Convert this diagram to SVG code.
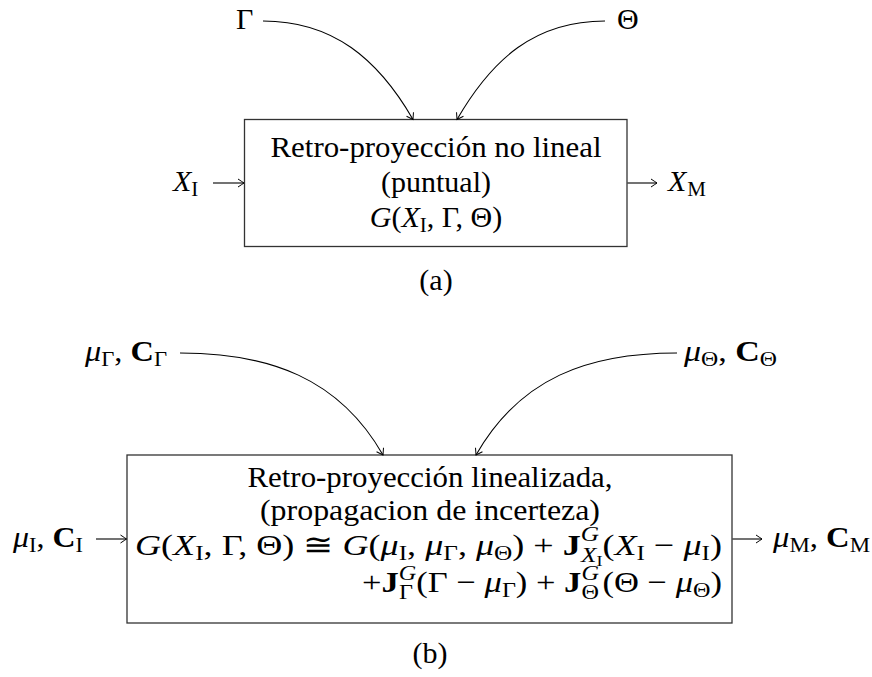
<svg xmlns="http://www.w3.org/2000/svg" width="872" height="677" viewBox="0 0 872 677">
<style>
text{font-family:"Liberation Serif","DejaVu Serif",serif;font-size:30px;fill:#000}
.i{font-style:italic}
.b{font-weight:bold}
.s{font-size:21px;font-style:normal}
.si{font-size:21px;font-style:italic}
.ss{font-size:15px;font-style:normal}
.box{fill:#fff;stroke:#333;stroke-width:1.3}
.c{fill:none;stroke:#000;stroke-width:1.1;marker-end:url(#ah)}
</style>
<defs>
<marker id="ah" viewBox="-8 -5 10 10" refX="0" refY="0" markerWidth="10" markerHeight="10" markerUnits="userSpaceOnUse" orient="auto">
<path d="M-6,-4 Q-1.5,-1 0,0 Q-1.5,1 -6,4" fill="none" stroke="#000" stroke-width="1"/>
</marker>
</defs>
<g id="box-a">
<rect class="box" x="244.5" y="119.5" width="382.5" height="127"/>
<text x="436" y="157" text-anchor="middle" textLength="331" lengthAdjust="spacingAndGlyphs">Retro-proyección no lineal</text>
<text x="436" y="192" text-anchor="middle">(puntual)</text>
<text x="436" y="227" text-anchor="middle"><tspan class="i">G</tspan>(<tspan class="i">X</tspan><tspan class="s" dy="5">I</tspan><tspan dy="-5">, Γ, Θ)</tspan></text>
</g>
<g id="label-gamma"><text x="236" y="29">Γ</text></g>
<g id="label-theta"><text x="617" y="29">Θ</text></g>
<g id="label-xi"><text x="173" y="191"><tspan class="i">X</tspan><tspan class="s" dy="5">I</tspan></text></g>
<g id="label-xm"><text x="668" y="191"><tspan class="i">X</tspan><tspan class="s" dy="5" dx="1">M</tspan></text></g>
<g id="caption-a"><text x="436" y="290" text-anchor="middle">(a)</text></g>
<g id="box-b">
<rect class="box" x="127" y="455" width="605" height="168"/>
<text x="430" y="487" text-anchor="middle" textLength="365" lengthAdjust="spacingAndGlyphs">Retro-proyección linealizada,</text>
<text x="430" y="520" text-anchor="middle" textLength="340" lengthAdjust="spacingAndGlyphs">(propagacion de incerteza)</text>
<text x="722" y="555" text-anchor="end" textLength="587" lengthAdjust="spacingAndGlyphs"><tspan class="i">G</tspan>(<tspan class="i">X</tspan><tspan class="s" dy="5">I</tspan><tspan dy="-5">, Γ, Θ) ≅ </tspan><tspan class="i">G</tspan>(<tspan class="i">μ</tspan><tspan class="s" dy="5">I</tspan><tspan dy="-5">, </tspan><tspan class="i">μ</tspan><tspan class="s" dy="5">Γ</tspan><tspan dy="-5">, </tspan><tspan class="i">μ</tspan><tspan class="s" dy="5">Θ</tspan><tspan dy="-5">) + </tspan><tspan class="b">J</tspan><tspan class="si" dy="-14">G</tspan><tspan class="si" dx="-15" dy="21">X</tspan><tspan class="ss" dy="4">I</tspan><tspan dy="-11">(</tspan><tspan class="i">X</tspan><tspan class="s" dy="5">I</tspan><tspan dy="-5"> − </tspan><tspan class="i">μ</tspan><tspan class="s" dy="5">I</tspan><tspan dy="-5">)</tspan></text>
<text x="722" y="592" text-anchor="end" textLength="360" lengthAdjust="spacingAndGlyphs">+<tspan class="b">J</tspan><tspan class="si" dy="-12">G</tspan><tspan class="s" dx="-15" dy="19">Γ</tspan><tspan dx="3" dy="-7">(Γ − </tspan><tspan class="i">μ</tspan><tspan class="s" dy="5">Γ</tspan><tspan dy="-5">) + </tspan><tspan class="b">J</tspan><tspan class="si" dy="-12">G</tspan><tspan class="s" dx="-15" dy="19">Θ</tspan><tspan dx="3" dy="-7">(Θ − </tspan><tspan class="i">μ</tspan><tspan class="s" dy="5">Θ</tspan><tspan dy="-5">)</tspan></text>
</g>
<g id="label-mu-gamma"><text x="85" y="361" textLength="82" lengthAdjust="spacingAndGlyphs"><tspan class="i">μ</tspan><tspan class="s" dy="5">Γ</tspan><tspan dy="-5">, </tspan><tspan class="b">C</tspan><tspan class="s" dy="5">Γ</tspan></text></g>
<g id="label-mu-theta"><text x="684" y="361" textLength="93" lengthAdjust="spacingAndGlyphs"><tspan class="i">μ</tspan><tspan class="s" dy="5">Θ</tspan><tspan dy="-5">, </tspan><tspan class="b">C</tspan><tspan class="s" dy="5">Θ</tspan></text></g>
<g id="label-mu-i"><text x="13" y="547" textLength="70" lengthAdjust="spacingAndGlyphs"><tspan class="i">μ</tspan><tspan class="s" dy="5">I</tspan><tspan dy="-5">, </tspan><tspan class="b">C</tspan><tspan class="s" dy="5">I</tspan></text></g>
<g id="label-mu-m"><text x="773" y="547" textLength="97" lengthAdjust="spacingAndGlyphs"><tspan class="i">μ</tspan><tspan class="s" dy="5">M</tspan><tspan dy="-5">, </tspan><tspan class="b">C</tspan><tspan class="s" dy="5">M</tspan></text></g>
<g id="caption-b"><text x="430" y="663" text-anchor="middle">(b)</text></g>
<g id="connectors">
<path class="c" d="M263,21 C333,21 378,59 413,119.5"/>
<path class="c" d="M605,21 C535,21 492,59 457,119.5"/>
<path class="c" d="M213,183 H244"/>
<path class="c" d="M627.5,183 H657"/>
<path class="c" d="M180,353 C269,353 339,378 383,455"/>
<path class="c" d="M677,353 C588,353 520,378 476,455"/>
<path class="c" d="M96,539 H126.5"/>
<path class="c" d="M732.5,539 H762"/>
</g>
</svg>
